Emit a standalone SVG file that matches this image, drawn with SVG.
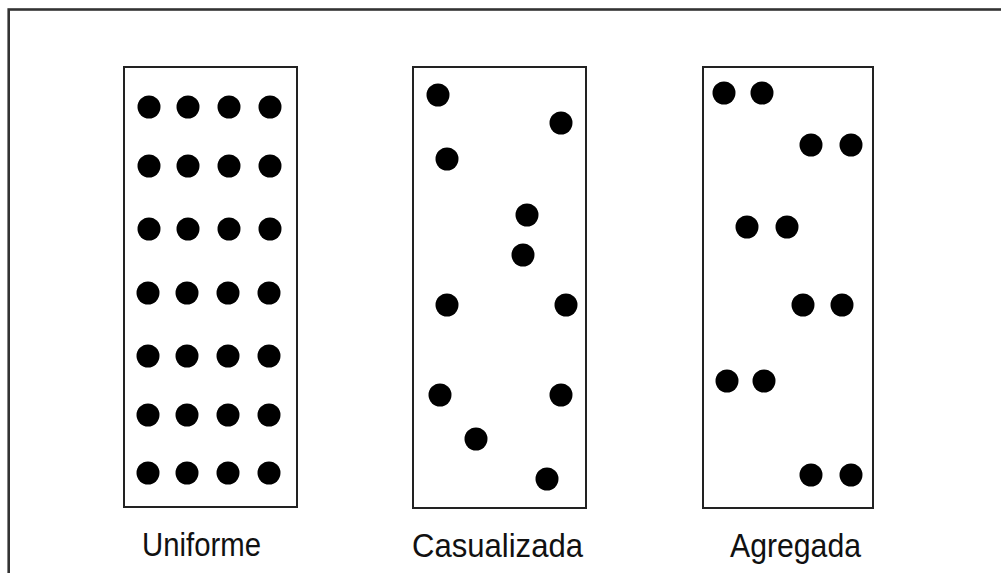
<svg xmlns="http://www.w3.org/2000/svg" width="1001" height="573" viewBox="0 0 1001 573">
<style>
.frame{fill:none;stroke:#333;stroke-width:2.6}
.box{fill:#fff;stroke:#222;stroke-width:2}
.dot{fill:#000}
.lbl{font-family:"Liberation Sans",Arial,sans-serif;font-size:33px;fill:#111}
</style>
<rect width="1001" height="573" fill="#fff"/>
<rect class="frame" x="8.7" y="9.5" width="1010" height="580"/>
<g id="uniforme">
<rect class="box" x="124" y="67" width="173" height="440"/>
<g class="dot">
<circle cx="149" cy="107" r="11.5"/><circle cx="188" cy="107" r="11.5"/><circle cx="229" cy="107" r="11.5"/><circle cx="270" cy="107" r="11.5"/>
<circle cx="149" cy="166" r="11.5"/><circle cx="188" cy="166" r="11.5"/><circle cx="229" cy="166" r="11.5"/><circle cx="270" cy="166" r="11.5"/>
<circle cx="149" cy="229" r="11.5"/><circle cx="188" cy="229" r="11.5"/><circle cx="229" cy="229" r="11.5"/><circle cx="270" cy="229" r="11.5"/>
<circle cx="148" cy="293" r="11.5"/><circle cx="187" cy="293" r="11.5"/><circle cx="228" cy="293" r="11.5"/><circle cx="269" cy="293" r="11.5"/>
<circle cx="148" cy="356" r="11.5"/><circle cx="187" cy="356" r="11.5"/><circle cx="228" cy="356" r="11.5"/><circle cx="269" cy="356" r="11.5"/>
<circle cx="148" cy="415" r="11.5"/><circle cx="187" cy="415" r="11.5"/><circle cx="228" cy="415" r="11.5"/><circle cx="269" cy="415" r="11.5"/>
<circle cx="148" cy="473" r="11.5"/><circle cx="187" cy="473" r="11.5"/><circle cx="228" cy="473" r="11.5"/><circle cx="269" cy="473" r="11.5"/>
</g>
<text class="lbl" x="142" y="556" textLength="119" lengthAdjust="spacingAndGlyphs">Uniforme</text>
</g>
<g id="casualizada">
<rect class="box" x="413" y="67" width="173" height="441"/>
<g class="dot">
<circle cx="438" cy="95" r="11.5"/><circle cx="561" cy="123" r="11.5"/><circle cx="447" cy="159" r="11.5"/>
<circle cx="527" cy="215" r="11.5"/><circle cx="523" cy="255" r="11.5"/>
<circle cx="447" cy="305" r="11.5"/><circle cx="566" cy="305" r="11.5"/>
<circle cx="440" cy="395" r="11.5"/><circle cx="561" cy="395" r="11.5"/>
<circle cx="476" cy="439" r="11.5"/><circle cx="547" cy="479" r="11.5"/>
</g>
<text class="lbl" x="412" y="557" textLength="171" lengthAdjust="spacingAndGlyphs">Casualizada</text>
</g>
<g id="agregada">
<rect class="box" x="703" y="67" width="170" height="441"/>
<g class="dot">
<circle cx="724" cy="93" r="11.5"/><circle cx="762" cy="93" r="11.5"/>
<circle cx="811" cy="145" r="11.5"/><circle cx="851" cy="145" r="11.5"/>
<circle cx="747" cy="227" r="11.5"/><circle cx="787" cy="227" r="11.5"/>
<circle cx="803" cy="305" r="11.5"/><circle cx="842" cy="305" r="11.5"/>
<circle cx="727" cy="381" r="11.5"/><circle cx="764" cy="381" r="11.5"/>
<circle cx="811" cy="475" r="11.5"/><circle cx="851" cy="475" r="11.5"/>
</g>
<text class="lbl" x="730" y="557" textLength="131" lengthAdjust="spacingAndGlyphs">Agregada</text>
</g>
<g id="connectors"></g>
</svg>
